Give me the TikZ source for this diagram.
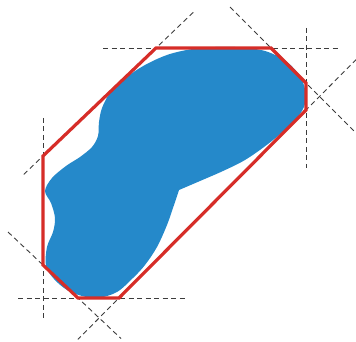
\documentclass[tikz,border=0pt]{standalone}
\usepackage{tikz}
\usetikzlibrary{calc}
\definecolor{hullred}{RGB}{214,45,40}
\definecolor{blobblue}{RGB}{37,137,202}
\definecolor{guidegray}{RGB}{60,60,60}
\tikzset{
  hull/.style={draw=hullred,line width=3.2pt,line join=miter},
  blob/.style={fill=blobblue,draw=none},
  guide/.style={draw=guidegray,line width=0.9pt,dash pattern=on 5pt off 3.5pt},
}
\begin{document}
\begin{tikzpicture}[x=1pt,y=-1pt]
  \useasboundingbox (0,0) rectangle (356,342);
  % corners of the octagon
  \coordinate (A) at (156,48);
  \coordinate (B) at (271,48);
  \coordinate (C) at (306,83);
  \coordinate (D) at (306,110);
  \coordinate (E) at (119,298);
  \coordinate (F) at (78,298);
  \coordinate (G) at (43,265);
  \coordinate (H) at (43,156);
  % supporting lines, stretched past both corners
  \foreach \a/\b/\s/\t in {A/B/0.46/0.59, C/D/2.04/2.15, B/C/1.17/1.43, D/E/0.27/0.22,
                           H/G/0.35/0.49, F/E/1.46/1.63, G/F/1.0/1.23, A/H/0.33/0.18}
    \draw[guide] ($(\a)!-\s!(\b)$) -- ($(\b)!-\t!(\a)$);
  % the shape
  \fill[blob] plot[smooth,tension=0.55] coordinates {
    (179,190) (174,205) (167,225) (157,247) (145,265) (133,278) (117,292)
    (98,298) (82,296) (67,290) (54,279) (46,266) (47,247) (53,232) (55,218)
    (51,203) (45,191) (52,178) (66,166) (80,157) (92,147) (98,136) (99,122)
    (102,108) (110,93) (124,79) (145,65) (170,54) (200,48) (235,47) (265,51)
    (287,62) (301,78) (306,96) (302,111) (288,127) (268,144) (245,160)
    (223,171) (200,181) (179,190)} -- cycle;
  \draw[hull] (A) -- (B) -- (C) -- (D) -- (E) -- (F) -- (G) -- (H) -- cycle;
\end{tikzpicture}
\end{document}
